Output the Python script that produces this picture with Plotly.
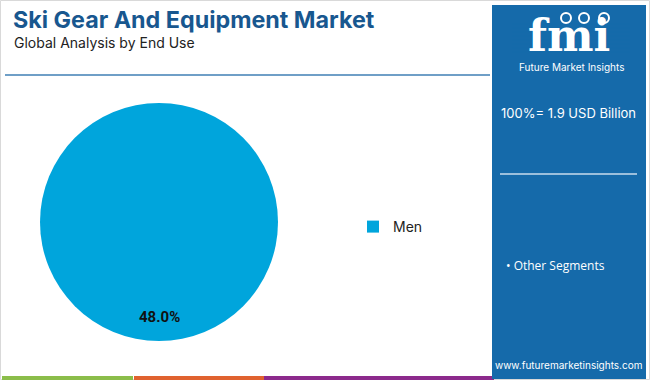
import plotly.graph_objects as go

# ---- data ----
segments = ["Men"]
shares = [48.0]
market_total = "1.9 USD Billion"
other_label = "Other Segments"
title_text = "Ski Gear And Equipment Market"
subtitle_text = "Global Analysis by End Use"

W, H = 650, 380
PANEL = "#156aaa"
PIE = "#00a5dc"

def px(x):
    return x / W

def py(y):
    return 1 - y / H

fig = go.Figure()
fig.add_trace(go.Pie(
    labels=segments,
    values=shares,
    marker=dict(colors=[PIE], line=dict(width=0)),
    textinfo="none",
    sort=False,
    hoverinfo="label+value",
    domain=dict(x=[px(40), px(278)], y=[py(341), py(103)]),
    showlegend=True,
))

shapes = [
    # outer border
    dict(type="rect", xref="paper", yref="paper", x0=px(0.5), x1=px(649.5), y0=py(379.5), y1=py(0.5),
         line=dict(color="#d9d9d9", width=1), fillcolor="rgba(0,0,0,0)", layer="below"),
    # rule under title
    dict(type="line", xref="paper", yref="paper", x0=px(5), x1=px(490), y0=py(75), y1=py(75),
         line=dict(color="#3f7fb5", width=1.5)),
    # bottom stripe
    dict(type="rect", xref="paper", yref="paper", x0=px(2), x1=px(133), y0=0, y1=py(376),
         line=dict(width=0), fillcolor="#8bbd4a"),
    dict(type="rect", xref="paper", yref="paper", x0=px(134), x1=px(264), y0=0, y1=py(376),
         line=dict(width=0), fillcolor="#e0622f"),
    dict(type="rect", xref="paper", yref="paper", x0=px(264), x1=px(494), y0=0, y1=py(376),
         line=dict(width=0), fillcolor="#8c2a8c"),
    # right panel
    dict(type="rect", xref="paper", yref="paper", x0=px(492), x1=px(646), y0=py(379), y1=py(5),
         line=dict(width=0), fillcolor=PANEL),
    # separator line in panel
    dict(type="line", xref="paper", yref="paper", x0=px(500), x1=px(637), y0=py(174), y1=py(174),
         line=dict(color="#c9dcec", width=1.5)),
]

annotations = [
    dict(text=f"<b>{title_text}</b>", x=px(11), y=py(19), xref="paper", yref="paper",
         xanchor="left", yanchor="middle", showarrow=False,
         font=dict(family="Inter, Open Sans, sans-serif", size=23.3, color="#18578f")),
    dict(text=subtitle_text, x=px(12), y=py(42), xref="paper", yref="paper",
         xanchor="left", yanchor="middle", showarrow=False,
         font=dict(family="Inter, Open Sans, sans-serif", size=14, color="#222222")),
    dict(text=f"<b>{shares[0]:.1f}%</b>", x=px(159), y=py(317), xref="paper", yref="paper",
         xanchor="center", yanchor="middle", showarrow=False,
         font=dict(family="Roboto, Liberation Sans, sans-serif", size=15, color="#111111")),
    # logo
    dict(text="<b>fmi</b>", x=px(569), y=py(36), xref="paper", yref="paper",
         xanchor="center", yanchor="middle", showarrow=False,
         font=dict(family="DejaVu Serif, serif", size=44, color="white")),
    dict(text="Future Market Insights", x=px(571), y=py(67), xref="paper", yref="paper",
         xanchor="center", yanchor="middle", showarrow=False,
         font=dict(family="Inter, Open Sans, sans-serif", size=10, color="white")),
    dict(text=f"100%= {market_total}", x=px(568), y=py(113), xref="paper", yref="paper",
         xanchor="center", yanchor="middle", showarrow=False,
         font=dict(family="Inter, Open Sans, sans-serif", size=13, color="white")),
    dict(text=f"• {other_label}", x=px(504), y=py(265), xref="paper", yref="paper",
         xanchor="left", yanchor="middle", showarrow=False,
         font=dict(family="Open Sans, sans-serif", size=12, color="white")),
    dict(text="www.futuremarketinsights.com", x=px(568), y=py(365), xref="paper", yref="paper",
         xanchor="center", yanchor="middle", showarrow=False,
         font=dict(family="Inter, Open Sans, sans-serif", size=10, color="white")),
]

# stripes across logo letters
for yy in range(24, 56, 4):
    shapes.append(dict(type="line", xref="paper", yref="paper", x0=px(512), x1=px(630),
                       y0=py(yy), y1=py(yy), line=dict(color=PANEL, width=1.2), layer="above"))

# logo dots above "fmi"
for cx in (566, 584, 604):
    shapes.append(dict(type="circle", xref="paper", yref="paper",
                       x0=px(cx - 5), x1=px(cx + 5), y0=py(23), y1=py(13),
                       line=dict(color="white", width=2), fillcolor=PANEL, layer="above"))

fig.update_layout(
    width=W, height=H,
    margin=dict(l=0, r=0, t=0, b=0),
    paper_bgcolor="white",
    plot_bgcolor="white",
    shapes=shapes,
    annotations=annotations,
    legend=dict(x=px(353), y=py(227), xanchor="left", yanchor="middle",
                font=dict(family="Inter, Open Sans, sans-serif", size=14, color="#222222"),
                bgcolor="rgba(0,0,0,0)", itemwidth=30),
)

fig.write_html("out.html", config={"displayModeBar": False},
               post_script="document.body.style.margin='0';")
